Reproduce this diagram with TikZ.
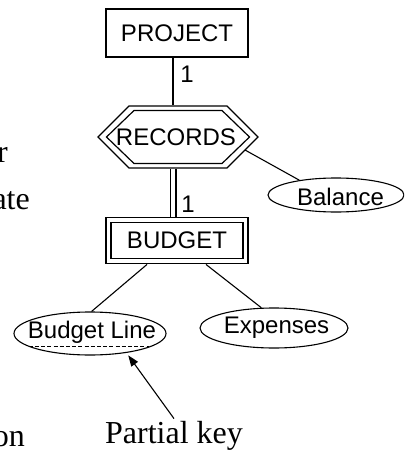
\documentclass[tikz,border=0pt]{standalone}
\usepackage{fontspec}
\setmainfont{Liberation Serif}
\newfontfamily\erfont{Liberation Sans}
\usetikzlibrary{calc,arrows.meta,shapes.geometric}
\begin{document}
\begin{tikzpicture}[x=1pt,y=-1pt,
  ertext/.style={font=\erfont\fontsize{24}{28}\selectfont, inner sep=0pt},
  cardtext/.style={font=\erfont\fontsize{24}{28}\selectfont, inner sep=0pt},
  slidetext/.style={font=\fontsize{32}{38}\selectfont, inner sep=0pt},
  entitybox/.style={draw, line width=1.3pt, minimum width=142pt, minimum height=48pt, inner sep=0pt},
  weakbox/.style={draw, double, double distance=3.8pt, line width=1.3pt,
    minimum width=137pt, minimum height=41.5pt, inner sep=0pt, outer sep=3.2pt},
  attrshape/.style={draw, ellipse, line width=1.1pt, inner sep=0pt},
  link/.style={line width=1.1pt},
  total/.style={line width=2pt},
  identifying/.style={double, line width=1.8pt, double distance=3.4pt},
  hexline/.style={line width=1.2pt, line join=miter},
]
\useasboundingbox (0,0) rectangle (404,452);
\begin{scope}
\clip (0,0) rectangle (404,452);

% slide text running off the left edge
\node[slidetext, anchor=base east] (t1) at (8,162) {r};
\node[slidetext, anchor=base east] (t2) at (30,209) {ate};
\node[slidetext, anchor=base east] (t3) at (25,446) {on};

% entities
\node[entitybox, ertext] (proj) at (177,33) {PROJECT};
\node[weakbox, ertext] (bud) at (177,240.5) {BUDGET};

% identifying relationship (double hexagon)
\node[ertext, minimum width=160pt, minimum height=62pt, outer sep=0.6pt] (records) at (178,137) {};
\node[ertext] (recordst) at (176,137) {RECORDS};
\begin{scope}[shift={(records)}]
  \draw[hexline] (-80,0) -- (-49,-31) -- (49,-31) -- (80,0) -- (49,31) -- (-49,31) -- cycle;
  \draw[hexline] (-71.5,0) -- (-44,-26.5) -- (44,-26.5) -- (71.5,0) -- (44,26.5) -- (-44,26.5) -- cycle;
\end{scope}
\coordinate (recedge) at ($(records)+(67,13)$);

% participation lines
\coordinate (spine) at (173,0);
\draw[total] (proj.south -| spine) -- (records.north -| spine);
\draw[identifying] (records.south -| spine) -- (bud.north -| spine);
\node[cardtext] (c1) at (187,74.5) {1};
\node[cardtext] (c2) at (188,204.5) {1};

% attributes
\node[attrshape, minimum width=152pt, minimum height=43pt] (bl) at (90,333.5) {};
\node[ertext] (blt) at (92,332.5) {Budget Line};
\draw[line width=1pt, dash pattern=on 4pt off 2.2pt]
  ($(blt.south west)+(1,3)$) -- ($(blt.south east)+(-7,3)$);
\node[attrshape, minimum width=148pt, minimum height=40pt] (exp) at (274,328) {};
\node[ertext] (expt) at (276.5,328) {Expenses};
\node[attrshape, minimum width=136pt, minimum height=34pt] (bal) at (336,195) {};
\node[ertext] (balt) at (340.5,196.5) {Balance};

\draw[link] ($(bud.south)+(-30,0)$) -- (bl.86);
\draw[link] ($(bud.south)+(29,0)$) -- (exp.122);
\draw[link] (recedge) -- (bal.158);

% partial key callout
\node[slidetext, anchor=base, inner sep=2pt] (pk) at (174,443) {Partial key};
\draw[link, -{Triangle[length=11pt,width=8pt]}, shorten >=3pt] (pk.north) -- (bl.-28);
\end{scope}
\end{tikzpicture}
\end{document}
